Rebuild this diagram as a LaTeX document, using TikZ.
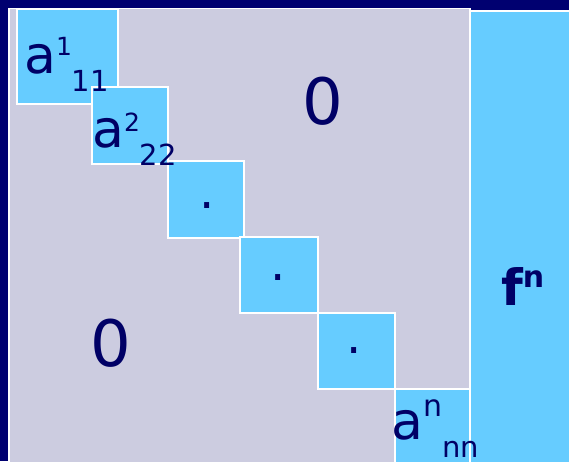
\documentclass[tikz,border=0pt]{standalone}
\usepackage{fontspec}
\setmainfont{DejaVu Sans}
\usetikzlibrary{positioning}
\definecolor{mxNavy}{HTML}{000070}
\definecolor{mxText}{HTML}{000066}
\definecolor{mxLilac}{HTML}{CCCCE0}
\definecolor{mxSky}{HTML}{66CCFF}

% a with superscript (size, raise) and subscript
\newcommand{\aent}[4]{a\raisebox{#2pt}{\fontsize{#1}{#1}\selectfont #3}\raisebox{-18pt}{\fontsize{29}{29}\selectfont #4}}

\tikzset{
  cell/.style={draw=white, fill=mxSky, line width=1.5pt, inner sep=0pt, anchor=north west},
  lbl/.style={text=mxText, inner sep=0pt, font=\fontsize{52}{52}\selectfont},
  zero/.style={text=mxText, inner sep=0pt, font=\fontsize{64}{64}\selectfont},
  dotlbl/.style={text=mxText, inner sep=0pt, anchor=base, font=\fontsize{48}{48}\selectfont}
}

\begin{document}
\begin{tikzpicture}[x=1pt, y=-1pt]
  \useasboundingbox (0,0) rectangle (569,461);
  \fill[mxNavy] (0,0) rectangle (569,461);

  % matrix area and right hand side
  \node[draw=white, fill=mxLilac, line width=1.5pt, anchor=north west,
    minimum width=461, minimum height=462] (mat) at (8,7.5) {};
  \node[cell, minimum width=102, minimum height=454] (col) at (469.5,10) {};

  % diagonal blocks
  \node[cell, minimum width=101, minimum height=95] (d1) at (16,8) {};
  \node[cell, minimum width=76, minimum height=77] (d2) at (91,86) {};
  \node[cell, minimum width=76, minimum height=77] (d3) at (167,160) {};
  \node[cell, minimum width=78, minimum height=76] (d4) at (239,236) {};
  \node[cell, minimum width=77, minimum height=76] (d5) at (317,312) {};
  \node[cell, minimum width=75, minimum height=78] (d6) at (394,388) {};

  % labels
  \node[lbl, anchor=base west] (e1) at (24,73) {\aent{25}{18}{1}{11}};
  \node[lbl, anchor=base west] (e2) at (92,147) {\aent{25}{16}{2}{22}};
  \node[lbl, anchor=base west] (e6) at (391,439) {\aent{30}{23}{n}{nn}};
  \node[dotlbl] (p3) at (207,208.5) {.};
  \node[dotlbl] (p4) at (278,280) {.};
  \node[dotlbl] (p5) at (354,353) {.};
  \node[zero] (z1) at (323,101) {0};
  \node[zero] (z2) at (111,343) {0};
  \node[lbl, anchor=base west, font=\fontsize{50}{50}\selectfont\bfseries] (fn)
    at (501,305) {f\raisebox{18pt}{\fontsize{30}{30}\selectfont n}};
\end{tikzpicture}
\end{document}
